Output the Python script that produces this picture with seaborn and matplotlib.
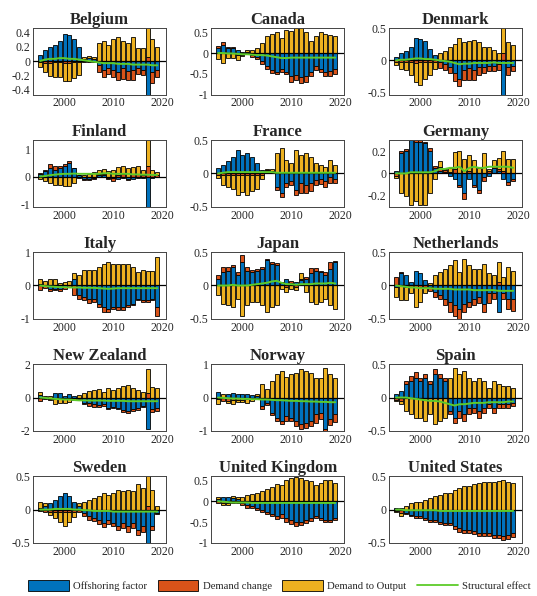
import numpy as np
import pandas as pd
import seaborn as sns
import matplotlib.pyplot as plt
from matplotlib.patches import Patch
from matplotlib.lines import Line2D

years = list(range(1995, 2020))
countries = ['Belgium', 'Canada', 'Denmark', 'Finland', 'France', 'Germany',
             'Italy', 'Japan', 'Netherlands', 'New Zealand', 'Norway', 'Spain',
             'Sweden', 'United Kingdom', 'United States']

# offshoring factor
offshoring = {
    'Belgium': [0.08, 0.15, 0.2, 0.22, 0.28, 0.37, 0.36, 0.3, 0.2, 0.03, 0.04, 0.03, -0.05, -0.12, -0.1, -0.12, -0.15, -0.1, -0.14, -0.12, -0.1, -0.12, -0.6, -0.15, -0.12],
    'Canada': [0.12, 0.2, 0.12, 0.12, 0.08, 0.02, 0.03, -0.05, -0.1, -0.2, -0.3, -0.4, -0.45, -0.38, -0.45, -0.55, -0.52, -0.58, -0.55, -0.45, -0.3, -0.38, -0.45, -0.42, -0.38],
    'Denmark': [0.05, 0.12, 0.15, 0.2, 0.35, 0.33, 0.3, 0.18, 0.08, -0.03, -0.05, -0.1, -0.2, -0.28, -0.15, -0.12, -0.15, -0.1, -0.1, -0.08, -0.08, -0.05, -0.55, -0.1, -0.08],
    'Finland': [0.1, 0.2, 0.3, 0.25, 0.3, 0.4, 0.5, 0.3, 0.05, -0.08, -0.1, -0.05, 0.05, 0.05, -0.05, -0.05, -0.08, -0.05, -0.08, -0.08, -0.05, -0.05, -1.2, -0.05, -0.03],
    'France': [0.08, 0.12, 0.18, 0.25, 0.35, 0.28, 0.3, 0.25, 0.15, 0.05, 0.03, 0.02, -0.2, -0.3, -0.15, -0.12, -0.25, -0.15, -0.18, -0.15, -0.1, -0.08, -0.12, -0.05, -0.08],
    'Germany': [0.02, 0.18, 0.2, 0.3, 0.28, 0.28, 0.27, 0.2, 0.05, 0.02, 0.01, -0.02, -0.05, -0.1, -0.18, -0.05, -0.1, -0.15, -0.03, -0.02, 0.05, 0.02, -0.05, -0.08, -0.05],
    'Italy': [0.05, 0.02, -0.12, -0.1, -0.12, -0.05, 0.02, 0.2, -0.3, -0.35, -0.4, -0.4, -0.55, -0.65, -0.7, -0.65, -0.65, -0.65, -0.6, -0.55, -0.4, -0.45, -0.45, -0.4, -0.65],
    'Japan': [0.1, 0.2, 0.22, 0.28, 0.15, 0.35, 0.22, 0.2, 0.22, 0.25, 0.38, 0.32, 0.3, 0.03, 0.1, 0.04, 0.05, 0.08, 0.1, 0.18, 0.22, 0.2, 0.15, 0.25, 0.35],
    'Netherlands': [-0.02, 0.18, 0.15, 0.05, 0.22, 0.18, 0.08, -0.03, -0.1, -0.15, -0.2, -0.25, -0.3, -0.35, -0.28, -0.25, -0.2, -0.18, -0.28, -0.12, -0.12, -0.4, -0.12, -0.2, -0.2],
    'New Zealand': [0.15, 0.05, -0.1, 0.25, 0.3, 0.1, 0.2, 0.1, -0.05, -0.3, -0.35, -0.4, -0.45, -0.4, -0.6, -0.55, -0.6, -0.75, -0.8, -0.7, -0.65, -0.5, -1.9, -0.7, -0.65],
    'Norway': [0.18, 0.02, 0.1, 0.15, 0.12, 0.1, 0.12, 0.08, 0.05, -0.25, -0.15, -0.45, -0.6, -0.7, -0.55, -0.6, -0.7, -0.8, -0.75, -0.7, -0.5, -0.45, -0.95, -0.65, -0.5],
    'Spain': [0.05, 0.1, 0.2, 0.25, 0.3, 0.25, 0.3, 0.2, 0.35, 0.3, 0.25, -0.2, -0.3, -0.2, -0.25, -0.15, -0.15, -0.2, -0.15, -0.1, -0.15, -0.1, -0.1, -0.1, -0.08],
    'Sweden': [0.02, 0.05, 0.1, 0.15, 0.2, 0.25, 0.2, 0.12, 0.05, -0.05, -0.1, -0.12, -0.15, -0.2, -0.15, -0.2, -0.25, -0.2, -0.25, -0.2, -0.3, -0.25, -0.55, -0.25, -0.05],
    'United Kingdom': [0.05, 0.1, 0.1, 0.08, 0.05, -0.05, -0.1, -0.12, -0.15, -0.2, -0.25, -0.3, -0.35, -0.3, -0.4, -0.45, -0.5, -0.5, -0.45, -0.4, -0.35, -0.4, -0.45, -0.45, -0.4],
    'United States': [0.02, 0.03, -0.05, -0.08, -0.1, -0.1, -0.12, -0.15, -0.15, -0.18, -0.2, -0.2, -0.25, -0.28, -0.3, -0.3, -0.32, -0.35, -0.35, -0.35, -0.38, -0.38, -0.4, -0.38, -0.35],
}

# demand change
demand_change = {
    'Belgium': [-0.02, -0.03, -0.03, -0.02, -0.02, -0.03, -0.03, -0.02, -0.02, -0.02, -0.02, -0.02, -0.1, -0.1, -0.08, -0.1, -0.12, -0.15, -0.12, -0.15, -0.08, -0.08, 0.05, -0.15, -0.1],
    'Canada': [0.04, 0.06, 0.03, 0.02, -0.05, -0.05, -0.03, -0.05, -0.05, -0.06, -0.08, -0.08, -0.06, -0.08, -0.06, -0.15, -0.12, -0.15, -0.15, -0.1, -0.1, -0.08, -0.1, -0.12, -0.12],
    'Denmark': [-0.02, -0.03, -0.03, -0.03, -0.04, -0.03, -0.03, -0.03, -0.03, -0.08, -0.1, -0.1, -0.12, -0.12, -0.15, -0.18, -0.15, -0.12, -0.1, -0.08, -0.08, -0.1, 0.12, -0.12, -0.08],
    'Finland': [0.02, 0.05, 0.15, 0.12, 0.1, 0.05, 0.05, 0.02, 0.02, -0.03, -0.03, -0.02, 0.03, 0.03, -0.05, -0.1, 0.05, 0.08, -0.05, 0.1, 0.08, 0.05, 0.4, 0.1, 0.05],
    'France': [-0.02, -0.02, -0.03, -0.03, -0.03, -0.03, -0.03, -0.02, -0.03, -0.03, 0.02, 0.02, -0.05, -0.05, -0.06, -0.05, -0.08, -0.15, -0.12, -0.12, -0.08, -0.08, -0.08, -0.1, -0.06],
    'Germany': [-0.02, 0.02, 0.02, 0.0, 0.02, 0.02, 0.01, 0.03, 0.02, 0.04, 0.02, 0.01, 0.04, -0.02, -0.05, 0.02, -0.02, -0.03, -0.04, 0.02, 0.02, 0.02, 0.02, -0.02, -0.02],
    'Italy': [-0.15, -0.08, -0.05, -0.05, -0.05, -0.05, -0.05, -0.3, -0.1, -0.1, -0.12, -0.1, -0.1, -0.15, -0.1, -0.05, -0.08, -0.08, -0.05, -0.05, -0.05, -0.05, -0.05, -0.05, -0.25],
    'Japan': [0.05, 0.08, 0.06, 0.02, 0.05, 0.1, 0.05, 0.03, 0.03, 0.03, 0.02, 0.03, 0.03, 0.02, -0.02, 0.02, -0.02, 0.02, 0.02, 0.08, 0.04, 0.02, 0.05, 0.1, 0.02],
    'Netherlands': [0.12, 0.02, -0.02, -0.02, -0.02, -0.03, -0.02, -0.05, -0.08, -0.06, -0.1, -0.15, -0.15, -0.15, -0.12, -0.08, -0.1, -0.08, -0.12, -0.15, -0.08, 0.05, -0.08, -0.15, -0.18],
    'New Zealand': [-0.2, 0.05, -0.05, -0.1, -0.05, -0.1, -0.05, -0.05, -0.05, -0.1, -0.15, -0.15, -0.12, -0.1, -0.1, -0.1, -0.1, -0.12, -0.15, -0.1, -0.1, -0.05, 0.3, -0.15, -0.15],
    'Norway': [-0.05, -0.1, -0.1, -0.08, -0.08, -0.08, -0.05, -0.05, -0.05, -0.1, -0.08, -0.08, -0.1, -0.1, -0.15, -0.1, -0.15, -0.15, -0.15, -0.15, -0.25, -0.2, -0.1, -0.18, -0.22],
    'Spain': [-0.03, -0.05, 0.05, 0.08, 0.08, 0.05, 0.05, 0.05, 0.08, 0.05, 0.05, -0.05, -0.08, -0.1, -0.1, -0.1, -0.08, -0.1, -0.08, -0.05, -0.08, -0.05, -0.05, -0.05, -0.05],
    'Sweden': [-0.02, -0.03, -0.03, -0.03, -0.03, -0.04, -0.03, -0.03, -0.03, -0.05, -0.05, -0.05, -0.06, -0.06, -0.06, -0.05, -0.06, -0.08, -0.08, -0.08, -0.08, -0.08, 0.05, -0.06, -0.02],
    'United Kingdom': [-0.05, -0.05, -0.05, -0.05, -0.05, -0.03, -0.05, -0.05, -0.05, -0.05, -0.05, -0.05, -0.08, -0.1, -0.1, -0.1, -0.1, -0.08, -0.08, -0.08, -0.05, -0.05, -0.05, -0.05, -0.05],
    'United States': [-0.02, -0.05, -0.02, -0.02, -0.02, -0.03, -0.03, -0.03, -0.03, -0.03, -0.03, -0.03, -0.04, -0.05, -0.05, -0.05, -0.05, -0.05, -0.05, -0.05, -0.05, -0.05, -0.06, -0.06, -0.06],
}

# demand to output
demand_output = {
    'Belgium': [-0.06, -0.12, -0.18, -0.2, -0.2, -0.25, -0.25, -0.22, -0.18, 0.02, 0.03, 0.02, 0.25, 0.28, 0.22, 0.3, 0.33, 0.28, 0.25, 0.33, 0.18, 0.18, 0.5, 0.3, 0.2],
    'Canada': [-0.15, -0.25, -0.12, -0.12, -0.12, -0.03, 0.05, 0.08, 0.12, 0.25, 0.4, 0.45, 0.5, 0.35, 0.55, 0.52, 0.6, 0.6, 0.5, 0.28, 0.42, 0.5, 0.45, 0.43, 0.42],
    'Denmark': [-0.05, -0.1, -0.12, -0.2, -0.3, -0.35, -0.25, -0.2, -0.1, 0.12, 0.15, 0.2, 0.25, 0.35, 0.28, 0.3, 0.32, 0.28, 0.2, 0.2, 0.16, 0.12, 0.5, 0.28, 0.24],
    'Finland': [-0.1, -0.15, -0.25, -0.3, -0.3, -0.35, -0.35, -0.25, -0.05, 0.05, 0.1, 0.15, 0.15, 0.2, 0.2, 0.25, 0.3, 0.3, 0.3, 0.25, 0.3, 0.2, 1.4, 0.15, 0.1],
    'France': [-0.05, -0.15, -0.18, -0.2, -0.3, -0.25, -0.3, -0.25, -0.2, -0.05, 0.02, 0.03, 0.3, 0.38, 0.2, 0.15, 0.35, 0.28, 0.3, 0.25, 0.15, 0.12, 0.1, 0.2, 0.12],
    'Germany': [-0.02, -0.18, -0.2, -0.28, -0.25, -0.28, -0.28, -0.18, -0.05, 0.05, 0.01, 0.04, 0.15, 0.2, 0.13, 0.15, 0.12, 0.05, 0.18, 0.02, 0.05, 0.1, 0.18, 0.13, 0.13],
    'Italy': [0.15, 0.12, 0.2, 0.18, 0.08, 0.1, 0.1, 0.18, 0.3, 0.45, 0.45, 0.45, 0.55, 0.65, 0.7, 0.65, 0.65, 0.65, 0.65, 0.55, 0.4, 0.45, 0.42, 0.42, 0.85],
    'Japan': [-0.15, -0.28, -0.3, -0.32, -0.2, -0.45, -0.3, -0.25, -0.25, -0.3, -0.4, -0.32, -0.3, -0.05, -0.08, -0.05, -0.05, 0.08, -0.1, -0.25, -0.28, -0.25, -0.2, -0.3, -0.36],
    'Netherlands': [-0.15, -0.22, -0.2, -0.1, -0.3, -0.22, -0.1, 0.03, 0.15, 0.2, 0.25, 0.3, 0.38, 0.2, 0.4, 0.3, 0.25, 0.25, 0.32, 0.18, 0.15, 0.3, 0.12, 0.28, 0.22],
    'New Zealand': [0.2, -0.1, 0.1, -0.3, -0.3, -0.2, -0.2, -0.1, 0.15, 0.3, 0.4, 0.45, 0.5, 0.35, 0.6, 0.45, 0.55, 0.7, 0.75, 0.6, 0.45, 0.35, 1.4, 0.65, 0.6],
    'Norway': [-0.15, 0.1, -0.05, -0.1, -0.05, -0.05, -0.1, -0.05, 0.05, 0.4, 0.25, 0.5, 0.7, 0.8, 0.62, 0.7, 0.75, 0.85, 0.8, 0.75, 0.6, 0.6, 0.88, 0.7, 0.6],
    'Spain': [-0.02, -0.05, -0.2, -0.25, -0.3, -0.3, -0.35, -0.25, -0.4, -0.35, -0.3, 0.3, 0.45, 0.35, 0.4, 0.3, 0.25, 0.3, 0.25, 0.15, 0.25, 0.2, 0.18, 0.18, 0.15],
    'Sweden': [0.1, 0.05, -0.05, -0.1, -0.15, -0.2, -0.15, -0.08, 0.05, 0.12, 0.15, 0.18, 0.2, 0.25, 0.22, 0.25, 0.3, 0.28, 0.3, 0.28, 0.38, 0.32, 0.55, 0.3, 0.05],
    'United Kingdom': [0.05, -0.05, -0.05, 0.05, 0.05, 0.1, 0.15, 0.18, 0.2, 0.25, 0.3, 0.35, 0.42, 0.4, 0.5, 0.55, 0.58, 0.55, 0.52, 0.48, 0.4, 0.45, 0.5, 0.5, 0.45],
    'United States': [-0.02, -0.05, 0.05, 0.1, 0.12, 0.12, 0.15, 0.18, 0.2, 0.22, 0.25, 0.25, 0.3, 0.32, 0.35, 0.35, 0.38, 0.4, 0.42, 0.42, 0.42, 0.43, 0.45, 0.42, 0.4],
}

# structural effect
structural = {
    'Belgium': [0.0, 0.02, 0.03, 0.03, 0.04, 0.04, 0.03, 0.03, 0.02, 0.01, 0.0, -0.01, -0.02, -0.03, -0.03, -0.03, -0.04, -0.04, -0.04, -0.05, -0.05, -0.05, -0.05, -0.06, -0.06],
    'Canada': [0.0, 0.0, -0.01, -0.01, -0.02, -0.03, -0.03, -0.04, -0.05, -0.05, -0.06, -0.08, -0.1, -0.12, -0.12, -0.11, -0.11, -0.11, -0.11, -0.11, -0.11, -0.11, -0.11, -0.11, -0.11],
    'Denmark': [0.0, 0.01, 0.01, 0.02, 0.03, 0.03, 0.02, 0.02, 0.01, 0.0, -0.01, -0.02, -0.04, -0.06, -0.05, -0.05, -0.04, -0.04, -0.04, -0.04, -0.03, -0.04, -0.04, -0.04, -0.04],
    'Finland': [0.0, 0.02, 0.05, 0.07, 0.09, 0.1, 0.1, 0.11, 0.1, 0.1, 0.1, 0.1, 0.1, 0.12, 0.12, 0.1, 0.1, 0.1, 0.1, 0.08, 0.08, 0.07, 0.07, 0.06, 0.06],
    'France': [0.0, 0.01, 0.02, 0.02, 0.02, 0.02, 0.02, 0.02, 0.02, 0.02, 0.02, 0.02, 0.01, 0.01, 0.01, 0.01, 0.01, 0.01, 0.01, 0.01, 0.01, 0.01, 0.01, 0.01, 0.01],
    'Germany': [0.0, 0.0, 0.0, 0.01, 0.01, 0.01, 0.01, 0.01, 0.02, 0.04, 0.04, 0.05, 0.05, 0.06, 0.02, 0.05, 0.06, 0.05, 0.05, 0.06, 0.06, 0.06, 0.06, 0.06, 0.05],
    'Italy': [0.0, -0.02, -0.03, -0.04, -0.05, -0.05, -0.06, -0.06, -0.06, -0.07, -0.07, -0.07, -0.08, -0.09, -0.1, -0.09, -0.08, -0.08, -0.08, -0.08, -0.08, -0.08, -0.08, -0.08, -0.08],
    'Japan': [0.0, 0.0, 0.0, 0.01, 0.0, 0.0, 0.0, 0.01, 0.02, 0.03, 0.04, 0.06, 0.07, 0.04, 0.02, 0.02, 0.01, 0.02, 0.02, 0.02, 0.03, 0.03, 0.03, 0.04, 0.03],
    'Netherlands': [0.0, -0.01, -0.02, -0.03, -0.03, -0.04, -0.04, -0.04, -0.05, -0.05, -0.05, -0.05, -0.06, -0.06, -0.06, -0.06, -0.07, -0.07, -0.07, -0.07, -0.07, -0.08, -0.08, -0.08, -0.08],
    'New Zealand': [0.0, -0.02, -0.05, -0.08, -0.1, -0.12, -0.12, -0.15, -0.17, -0.17, -0.18, -0.18, -0.18, -0.18, -0.2, -0.2, -0.2, -0.2, -0.22, -0.22, -0.22, -0.22, -0.22, -0.22, -0.22],
    'Norway': [0.0, -0.01, -0.02, -0.03, -0.03, -0.04, -0.04, -0.05, -0.05, -0.06, -0.06, -0.07, -0.08, -0.08, -0.09, -0.1, -0.1, -0.11, -0.11, -0.12, -0.12, -0.13, -0.13, -0.14, -0.14],
    'Spain': [0.0, 0.0, 0.0, -0.01, -0.02, -0.03, -0.04, -0.05, -0.05, -0.06, -0.08, -0.1, -0.12, -0.1, -0.1, -0.09, -0.08, -0.08, -0.08, -0.07, -0.07, -0.07, -0.07, -0.06, -0.06],
    'Sweden': [0.0, 0.0, 0.0, 0.01, 0.01, 0.01, 0.01, 0.0, 0.0, -0.01, -0.01, -0.02, -0.02, -0.02, -0.02, -0.03, -0.03, -0.03, -0.03, -0.03, -0.03, -0.03, -0.03, -0.03, -0.03],
    'United Kingdom': [0.0, -0.01, -0.02, -0.03, -0.03, -0.03, -0.03, -0.04, -0.04, -0.04, -0.04, -0.04, -0.04, -0.04, -0.04, -0.04, -0.04, -0.04, -0.04, -0.04, -0.04, -0.04, -0.04, -0.04, -0.04],
    'United States': [0.0, 0.0, -0.01, -0.01, -0.01, -0.01, -0.01, -0.01, -0.01, -0.02, -0.02, -0.02, -0.02, -0.02, -0.02, -0.02, -0.02, -0.02, -0.02, -0.02, -0.02, -0.02, -0.02, -0.02, -0.02],
}

ylims = {
    'Belgium': (-0.47, 0.46), 'Canada': (-1, 0.6), 'Denmark': (-0.53, 0.5),
    'Finland': (-1.1, 1.33), 'France': (-0.5, 0.5), 'Germany': (-0.3, 0.3),
    'Italy': (-1, 1), 'Japan': (-0.5, 0.5), 'Netherlands': (-0.5, 0.5),
    'New Zealand': (-2, 2), 'Norway': (-1, 1), 'Spain': (-0.5, 0.5),
    'Sweden': (-0.5, 0.5), 'United Kingdom': (-1, 0.6), 'United States': (-0.5, 0.5),
}
yticks = {
    'Belgium': [-0.4, -0.2, 0, 0.2, 0.4], 'Canada': [-1, -0.5, 0, 0.5],
    'Denmark': [-0.5, 0, 0.5], 'Finland': [-1, 0, 1], 'France': [-0.5, 0, 0.5],
    'Germany': [-0.2, 0, 0.2], 'Italy': [-1, 0, 1], 'Japan': [-0.5, 0, 0.5],
    'Netherlands': [-0.5, 0, 0.5], 'New Zealand': [-2, 0, 2], 'Norway': [-1, 0, 1],
    'Spain': [-0.5, 0, 0.5], 'Sweden': [-0.5, 0, 0.5],
    'United Kingdom': [-1, -0.5, 0, 0.5], 'United States': [-0.5, 0, 0.5],
}

sns.set_style('white')
plt.rcParams['font.family'] = ['Liberation Serif', 'DejaVu Serif']

colors = ['#0072BD', '#D95319', '#EDB120']
green = '#5DCB2A'

fig, axes = plt.subplots(5, 3, figsize=(5.37, 5.96), dpi=100)
plt.subplots_adjust(left=0.062, right=0.972, top=0.953, bottom=0.089, wspace=0.34, hspace=0.68)

for ax, c in zip(axes.flat, countries):
    comps = [np.array(offshoring[c]), np.array(demand_change[c]), np.array(demand_output[c])]
    pos = np.zeros(len(years))
    neg = np.zeros(len(years))
    for vals, col in zip(comps, colors):
        bottom = np.where(vals >= 0, pos, neg)
        ax.bar(years, vals, bottom=bottom, width=0.82, color=col,
               edgecolor='black', linewidth=0.6)
        pos = pos + np.where(vals >= 0, vals, 0)
        neg = neg + np.where(vals < 0, vals, 0)
    ax.axhline(0, color='black', lw=0.9, zorder=3)
    df = pd.DataFrame({'year': years, 'se': structural[c]})
    sns.lineplot(data=df, x='year', y='se', ax=ax, color=green, lw=1.4, zorder=4)
    ax.set_xlim(1993.6, 2020.8)
    ax.set_ylim(*ylims[c])
    ax.set_xticks([2000, 2010, 2020])
    ax.set_yticks(yticks[c])
    ax.set_yticklabels(['%g' % t for t in yticks[c]])
    ax.set_xlabel('')
    ax.set_ylabel('')
    ax.set_title(c, fontsize=12, fontweight='bold', pad=3)
    ax.tick_params(labelsize=8.5, length=2, direction='in', pad=2)
    for s in ax.spines.values():
        s.set_color('#444444')
        s.set_linewidth(0.7)

handles = [Patch(facecolor=colors[0], edgecolor='black', lw=0.6),
           Patch(facecolor=colors[1], edgecolor='black', lw=0.6),
           Patch(facecolor=colors[2], edgecolor='black', lw=0.6),
           Line2D([0], [0], color=green, lw=1.3)]
labels = ['Offshoring factor', 'Demand change', 'Demand to Output', 'Structural effect']
fig.legend(handles, labels, loc='lower center', bbox_to_anchor=(0.52, -0.008), ncol=4,
           frameon=False, fontsize=7.7, handlelength=3.8, handleheight=1.1,
           columnspacing=1.0, handletextpad=0.4)

fig.savefig('out.png', dpi=100)
